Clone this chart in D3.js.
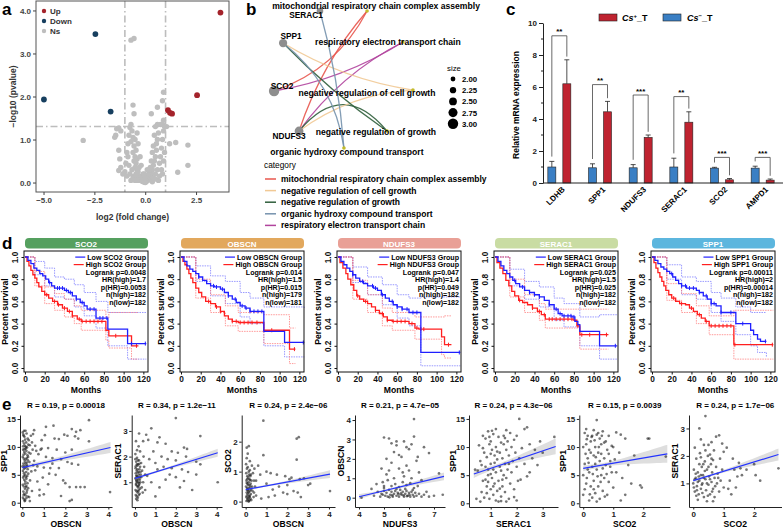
<!DOCTYPE html>
<html><head><meta charset="utf-8">
<script src="https://cdn.jsdelivr.net/npm/d3@7"></script>
<style>body{margin:0;background:#fff}</style>
</head><body><script>
// ================= DATA =================
// Panel a: volcano
const volcUp = [[3.7,3.95],[2.55,2.03],[1.12,1.68],[1.22,1.62],[1.32,1.6]];
const volcDown = [[-2.45,3.45],[-4.98,1.93],[-1.7,1.65]];
const volcNs = [[-0.7,3.31],[-0.55,3.35],[-3.05,0.98],[-0.6,1.8],[-0.55,1.6],[0.9,2.1],[0.85,1.9],[0.6,1.75],[0.3,1.6],[2.1,0.87],[2.1,0.4],[1.6,0.24],[1.5,0.93],[1.2,0.9],[1.05,1.3],[0.85,1.35],[0.9,1.45],
[-1.4,1.25],[-1.3,1.27],[-1.2,1.2],[-1.45,1.1],[-1.5,1.05],[-1.3,0.75],[-1.25,0.55],[-1.2,0.35],[-1.3,0.28],[-1.1,0.2],[-1.0,0.25],[-0.95,0.45],[-0.9,0.7],[-0.85,0.9],[-0.8,1.1],[-0.75,1.28],[-0.7,1.35],[-0.65,1.2],[-0.6,1.05],[-0.7,0.95],[-0.55,0.85],[-0.6,0.7],[-0.5,0.6],[-0.55,0.5],[-0.45,0.45],[-0.5,0.35],[-0.4,0.3],[-0.45,0.2],[-0.35,0.15],[-0.3,0.1],[-0.25,0.08],[-0.2,0.05],[-0.15,0.03],[-0.1,0.02],[-0.05,0.01],[-0.35,0.25],[-0.3,0.35],[-0.4,0.55],[-0.3,0.05],[-0.55,0.15],[-0.65,0.3],[-0.75,0.2],[-0.8,0.4],[-0.9,0.15],[-0.6,0.1],[-0.5,0.05],[-0.7,0.05],[-0.2,0.15],[-0.15,0.1],[-0.4,0.05],[-0.85,0.6],[-0.45,0.75],[-0.5,1.0],[-0.4,1.15],[-0.35,0.9],[-0.25,0.6],[-0.2,0.4],[-0.1,0.2],
[0.05,0.02],[0.1,0.05],[0.15,0.08],[0.2,0.1],[0.25,0.15],[0.3,0.2],[0.35,0.3],[0.4,0.4],[0.45,0.5],[0.5,0.6],[0.55,0.75],[0.55,0.9],[0.6,1.0],[0.65,1.15],[0.6,1.35],[0.5,1.3],[0.45,1.1],[0.4,0.85],[0.35,0.7],[0.3,0.5],[0.25,0.35],[0.2,0.25],[0.15,0.18],[0.1,0.12],[0.3,0.05],[0.4,0.1],[0.5,0.2],[0.6,0.3],[0.7,0.45],[0.75,0.6],[0.8,0.8],[0.85,1.0],[0.9,1.2],[0.95,1.3],[0.7,0.15],[0.8,0.3],[0.65,0.05],[0.85,0.2],[0.9,0.5],[0.95,0.7],[0.75,1.35],[0.5,0.08],[0.35,0.02],[0.0,0.0],[0.05,0.15],[0.0,0.1],[-0.05,0.2],[0.1,0.3]];
const volcXTicks = [-5, -2.5, 0, 2.5];
const volcYTicks = [0, 1, 2, 3, 4];
const volcLegend = ["Up", "Down", "Ns"];

// Panel b: gene-concept network
const netGenes = ["SERAC1", "SPP1", "SCO2", "NDUFS3"];
const netGeneSize = [2.3, 2.6, 3.0, 2.7];
const netGeneXY = [[34.1,0],[12.4,23.4],[7.1,58.4],[21.8,87.6]];
const netTerms = ["mitochondrial respiratory chain complex assembly","respiratory electron transport chain","negative regulation of cell growth","negative regulation of growth","organic hydroxy compound transport"];
const netTermXY = [[61.8,0],[82.9,22.6],[88.8,57.7],[73.5,87.6],[48.2,100]];
const netEdges = [["SCO2",0],["SCO2",1],["NDUFS3",0],["NDUFS3",1],["NDUFS3",3],["NDUFS3",2],["SPP1",2],["SPP1",3],["SPP1",4],["SERAC1",4]];
const netCategories = ["mitochondrial respiratory chain complex assembly","negative regulation of cell growth","negative regulation of growth","organic hydroxy compound transport","respiratory electron transport chain"];
const sizeLegend = [2.00, 2.25, 2.50, 2.75, 3.00];

// Panel c: qPCR bars
const qGenes = ["LDHB","SPP1","NDUFS3","SERAC1","SCO2","AMPD1"];
const qNeg = [1.0, 0.95, 0.95, 1.0, 0.93, 0.93];
const qNegErr = [0.35, 0.25, 0.2, 0.55, 0.05, 0.12];
const qPos = [6.2, 4.45, 2.85, 3.8, 0.2, 0.18];
const qPosErr = [1.5, 0.65, 0.15, 0.65, 0.08, 0.07];
const qBracket = [9.2, 6.15, 5.5, 5.4, 1.6, 1.6];
const qStars = ["**","**","***","**","***","***"];
const qYTicks = [0, 2, 4, 6, 8, 10];

// Panel d: Kaplan-Meier
const kmGenes = ["SCO2","OBSCN","NDUFS3","SERAC1","SPP1"];
const kmStats = [["0.0048","1.7","0.0053","182","182"],["0.014","1.5","0.015","179","181"],["0.047","1.4","0.049","182","182"],["0.025","1.5","0.025","182","182"],["0.00011","2","0.00014","182","182"]];
const kmLow = [
 [[0,1],[3,0.97],[6,0.94],[9,0.9],[12,0.88],[15,0.85],[18,0.83],[21,0.8],[24,0.77],[27,0.74],[30,0.72],[40,0.7],[44,0.68],[48,0.65],[52,0.62],[56,0.59],[60,0.56],[63,0.53],[72,0.45],[84,0.35],[104,0.22],[123,0.22]],
 [[0,1],[3,0.96],[6,0.92],[9,0.89],[12,0.87],[15,0.85],[18,0.82],[22,0.79],[26,0.76],[30,0.74],[34,0.73],[40,0.71],[44,0.68],[48,0.65],[52,0.62],[56,0.59],[60,0.56],[65,0.54],[70,0.51],[84,0.33],[105,0.23],[125,0.23]],
 [[0,1],[3,0.96],[6,0.93],[9,0.9],[12,0.87],[15,0.84],[18,0.81],[22,0.78],[26,0.76],[30,0.74],[36,0.72],[40,0.7],[44,0.66],[48,0.63],[52,0.6],[56,0.57],[60,0.55],[65,0.53],[72,0.5],[84,0.14],[124,0.14]],
 [[0,1],[3,0.96],[6,0.92],[9,0.88],[12,0.85],[15,0.82],[18,0.79],[21,0.76],[25,0.73],[30,0.7],[35,0.68],[40,0.66],[45,0.64],[50,0.61],[55,0.57],[60,0.53],[64,0.49],[68,0.47],[78,0.46],[81,0.42],[84,0.39],[86,0.33],[106,0.2],[124,0.2]],
 [[0,1],[3,0.97],[6,0.94],[9,0.91],[12,0.89],[15,0.87],[18,0.85],[21,0.82],[24,0.79],[27,0.76],[30,0.74],[35,0.72],[45,0.7],[48,0.68],[52,0.65],[56,0.62],[60,0.58],[65,0.56],[70,0.5],[85,0.4],[100,0.34],[103,0.3],[107,0.26],[110,0.24],[116,0.24]]];
const kmHigh = [
 [[0,1],[2,0.96],[4,0.92],[6,0.88],[8,0.84],[10,0.81],[12,0.77],[14,0.73],[17,0.69],[20,0.66],[24,0.63],[28,0.6],[33,0.57],[38,0.54],[43,0.51],[48,0.47],[53,0.44],[57,0.42],[82,0.34],[85,0.29],[108,0.2],[115,0.2]],
 [[0,1],[2,0.96],[4,0.93],[6,0.89],[8,0.85],[10,0.81],[12,0.77],[15,0.72],[18,0.68],[21,0.64],[25,0.6],[30,0.58],[35,0.55],[40,0.51],[44,0.47],[48,0.44],[52,0.42],[58,0.41],[84,0.34],[110,0.17],[116,0.17]],
 [[0,1],[2,0.95],[5,0.9],[8,0.85],[10,0.8],[13,0.75],[16,0.7],[19,0.65],[22,0.62],[26,0.6],[30,0.58],[34,0.55],[38,0.52],[42,0.49],[46,0.46],[50,0.43],[55,0.42],[72,0.4],[78,0.36],[82,0.35],[105,0.28],[108,0.21],[115,0.21]],
 [[0,1],[2,0.95],[5,0.9],[8,0.85],[11,0.79],[14,0.74],[17,0.69],[20,0.65],[24,0.61],[28,0.59],[33,0.57],[38,0.54],[43,0.51],[47,0.48],[51,0.44],[80,0.43],[83,0.38],[86,0.3],[115,0.3]],
 [[0,1],[2,0.95],[4,0.9],[6,0.86],[8,0.82],[10,0.78],[12,0.74],[14,0.7],[17,0.66],[20,0.63],[24,0.6],[28,0.58],[34,0.57],[38,0.54],[42,0.51],[46,0.48],[50,0.45],[54,0.42],[58,0.38],[83,0.21],[123,0.21]]];
const kmLowUp = [
 [[0,1],[10,0.96],[20,0.9],[30,0.82],[40,0.8],[50,0.75],[60,0.68],[72,0.6],[84,0.5],[104,0.5],[123,0.5]],
 [[0,1],[15,0.92],[30,0.83],[45,0.78],[60,0.68],[70,0.63],[84,0.55],[125,0.54]],
 [[0,1],[15,0.91],[30,0.82],[45,0.75],[60,0.66],[72,0.63],[84,0.64],[124,0.64]],
 [[0,1],[15,0.89],[30,0.78],[45,0.73],[60,0.63],[70,0.58],[86,0.46],[106,0.48],[124,0.48]],
 [[0,1],[15,0.93],[30,0.82],[45,0.78],[60,0.68],[70,0.63],[85,0.55],[100,0.5],[116,0.5]]];
const kmLowLo = [
 [[0,1],[10,0.84],[20,0.74],[30,0.64],[40,0.62],[50,0.55],[60,0.47],[72,0.36],[84,0.2],[104,0.08],[123,0.08]],
 [[0,1],[15,0.78],[30,0.65],[45,0.58],[60,0.46],[70,0.4],[84,0.2],[105,0.1],[125,0.1]],
 [[0,1],[15,0.77],[30,0.66],[45,0.57],[60,0.45],[72,0.38],[84,0.02],[124,0.02]],
 [[0,1],[15,0.74],[30,0.62],[45,0.55],[60,0.43],[70,0.37],[86,0.2],[106,0.08],[124,0.08]],
 [[0,1],[15,0.8],[30,0.66],[45,0.62],[60,0.5],[70,0.42],[85,0.3],[100,0.2],[107,0.14],[116,0.1]]];
const kmHighUp = [
 [[0,1],[10,0.87],[20,0.73],[30,0.67],[40,0.62],[50,0.56],[57,0.52],[82,0.45],[85,0.5],[115,0.5]],
 [[0,1],[15,0.8],[30,0.66],[45,0.56],[58,0.5],[84,0.48],[110,0.36],[116,0.36]],
 [[0,1],[15,0.79],[30,0.66],[45,0.54],[55,0.5],[78,0.46],[108,0.47],[115,0.47]],
 [[0,1],[15,0.8],[30,0.66],[45,0.58],[51,0.53],[86,0.53],[115,0.53]],
 [[0,1],[15,0.76],[30,0.67],[45,0.56],[58,0.47],[83,0.52],[123,0.52]]];
const kmHighLo = [
 [[0,1],[10,0.74],[20,0.58],[30,0.52],[40,0.46],[50,0.4],[57,0.34],[82,0.25],[85,0.18],[108,0.08],[115,0.08]],
 [[0,1],[15,0.63],[30,0.5],[45,0.38],[58,0.33],[84,0.22],[110,0.04],[116,0.04]],
 [[0,1],[15,0.62],[30,0.5],[45,0.38],[55,0.34],[78,0.26],[105,0.12],[108,0.09],[115,0.09]],
 [[0,1],[15,0.64],[30,0.5],[45,0.43],[51,0.36],[86,0.17],[115,0.17]],
 [[0,1],[15,0.61],[30,0.5],[45,0.4],[58,0.3],[83,0.08],[123,0.08]]];
const kmCensLow = [[25,33,35,38,42,46,52,58,66,70,76,79,83,108,122],[18,33,36,42,48,55,62,66,70,74,78,82,124],[15,25,35,38,45,55,60,65,70,76,80,123],[20,28,35,40,45,55,62,66,70,74,77,80,122],[20,30,34,38,42,48,55,60,63,70,80,92,115]];
const kmCensHigh = [[22,30,34,40,45,48,55,58,62,66,70,74,78,92,113],[28,36,40,52,56,60,64,68,72,77,92,115],[20,28,38,45,50,56,60,64,68,75,80,84,87,112],[25,38,45,50,55,58,62,66,70,74,78,84,88,96,113],[22,30,40,48,55,60,64,68,72,76,80,84,122]];
const kmXTicks = [0,20,40,60,80,100,120];
const kmYTicks = [0,0.2,0.4,0.6,0.8,1.0];

// Panel e: correlations
const scTitles = ["R = 0.19, p = 0.00018","R = 0.34, p = 1.2e\u221211","R = 0.24, p = 2.4e\u221206","R = 0.21, p = 4.7e\u221205","R = 0.24, p = 4.3e\u221206","R = 0.15, p = 0.0039","R = 0.24, p = 1.7e\u221206"];
const scXLab = ["OBSCN","OBSCN","OBSCN","NDUFS3","SERAC1","SCO2","SCO2"];
const scYLab = ["SPP1","SERAC1","SCO2","OBSCN","SPP1","SPP1","SERAC1"];
const scXTicks = [[0,1,2,3,4],[0,1,2,3,4],[0,1,2,3,4],[4,5,6,7],[1,2,3],[0,1,2],[0,1,2]];
const scYTicks = [[0,5,10,15],[1,2,3],[0,1,2],[0,1,2,3,4],[0,5,10,15],[0,5,10,15],[1,2,3]];
const scFit = [[0,6.3,4.1,9.9],[0,1.15,4.05,2.15],[0,0.4,4.05,0.92],[4.0,0.05,7.4,1.1],[0.35,5.2,3.5,10.1],[0,6.2,2.8,8.8],[0,1.1,2.8,2.05]];
const scBand = [[0.45,0.35,1.0],[0.07,0.04,0.16],[0.05,0.03,0.13],[0.14,0.05,0.2],[0.7,0.35,1.4],[0.5,0.35,1.6],[0.06,0.04,0.22]];
const e1Pts = [[0.02,12.6],[0.05,12.2],[0.1,11.8],[0.15,12.9],[0.2,12.4],[0.25,11.5],[0.03,11.0],[0.08,10.6],[0.12,10.2],[0.18,10.8],[0.22,9.9],[0.28,10.4],[0.04,9.5],[0.09,9.1],[0.14,8.8],[0.19,9.3],[0.24,8.5],[0.3,9.0],[0.02,8.2],[0.07,7.9],[0.11,7.5],[0.16,7.8],[0.21,7.2],[0.26,7.6],[0.05,7.0],[0.1,6.6],[0.15,6.3],[0.2,6.8],[0.25,6.0],[0.03,5.7],[0.08,5.3],[0.13,5.0],[0.18,5.5],[0.23,4.8],[0.28,5.2],[0.04,4.5],[0.09,4.1],[0.14,3.8],[0.19,4.3],[0.24,3.5],[0.02,3.2],[0.07,2.9],[0.12,2.5],[0.17,2.8],[0.22,2.2],[0.27,2.6],[0.05,2.0],[0.1,1.6],[0.15,1.3],[0.2,1.8],[0.25,1.1],[0.03,0.9],[0.08,0.6],[0.13,0.4],[0.18,0.8],[0.35,0.3],[0.06,12.0],[0.13,11.3],[0.17,10.0],[0.11,9.6],[0.06,8.6],[0.21,8.0],[0.14,7.1],[0.09,6.1],[0.17,4.6],[0.12,3.4],[0.06,1.4],[0.3,11.2],[0.35,10.3],[0.4,12.0],[0.33,7.3],[0.38,8.8],[0.42,5.6],[0.36,4.0],[0.45,2.1],[0.32,1.0],[0.08,12.9],[0.04,10.1],[0.16,9.7],[0.23,6.5],[0.07,4.8],[0.19,3.0],[0.01,6.5],[0.27,8.2],[0.11,0.3],
[3.1,14.8],[1.45,13.8],[2.3,13.2],[2.5,12.7],[2.7,13.0],[1.95,12.2],[2.1,12.0],[2.45,11.9],[3.1,11.0],[1.5,11.5],[1.7,11.4],[0.9,9.7],[1.2,9.8],[1.6,9.5],[2.0,9.0],[2.3,9.5],[0.6,10.2],[0.85,9.5],[1.1,8.2],[1.4,8.0],[1.8,7.8],[2.1,7.3],[2.3,7.0],[2.6,6.8],[0.7,6.5],[1.0,6.3],[1.3,6.2],[1.55,5.0],[1.9,4.0],[2.0,3.5],[2.5,2.8],[2.7,2.8],[2.9,2.8],[2.2,2.8],[1.8,1.2],[2.2,0.3],[2.3,0.5],[1.0,1.5],[0.8,2.3],[4.08,1.9],[0.5,12.3],[0.55,13.0],[0.65,9.3],[0.75,8.7],[0.55,7.5],[0.6,5.8],[0.7,3.8],[0.8,1.3],[0.9,11.2],[1.05,12.1],[1.25,5.2],[1.4,7.0],[1.7,6.2],[0.45,10.8],[0.5,6.7],[0.48,9.5],[1.1,13.6],[0.95,4.5],[1.2,3.3],[2.6,11.5]];
const e2Pts = [[0.02,1.9],[0.06,1.8],[0.1,1.95],[0.15,1.7],[0.2,1.85],[0.25,1.6],[0.03,1.55],[0.08,1.45],[0.12,1.65],[0.18,1.4],[0.22,1.5],[0.28,1.3],[0.04,1.35],[0.09,1.25],[0.14,1.2],[0.19,1.3],[0.24,1.1],[0.3,1.2],[0.02,1.15],[0.07,1.05],[0.11,1.0],[0.16,1.1],[0.21,0.95],[0.26,1.0],[0.05,0.9],[0.1,0.85],[0.15,0.8],[0.2,0.9],[0.25,0.75],[0.03,0.7],[0.08,0.65],[0.13,0.6],[0.18,0.7],[0.23,0.55],[0.04,0.5],[0.09,0.45],[0.14,0.4],[0.19,0.5],[0.06,0.35],[0.12,0.3],[0.02,2.1],[0.1,2.25],[0.18,2.4],[0.05,2.6],[0.25,2.2],[0.3,1.75],[0.35,1.45],[0.4,1.0],[0.33,0.8],[0.38,0.6],[0.12,1.5],[0.07,1.25],[0.17,1.0],[0.22,1.2],[0.06,0.95],[0.16,0.65],[0.27,1.4],[0.09,1.7],[0.14,1.85],[0.45,1.6],[0.5,1.3],[0.42,2.0],[0.2,2.9],[0.04,1.62],[0.13,1.38],[0.21,1.72],[0.08,1.08],[0.17,0.85],
[2.0,3.5],[0.8,3.1],[0.55,2.85],[1.2,2.75],[0.4,2.6],[0.65,2.65],[1.1,2.55],[1.5,2.5],[3.2,2.8],[2.4,2.35],[2.55,2.3],[1.8,2.2],[2.1,2.15],[0.9,2.2],[1.3,2.0],[2.5,2.0],[1.6,1.9],[2.0,1.85],[3.0,1.8],[3.2,1.7],[1.0,1.75],[0.7,1.9],[1.1,1.5],[1.4,1.6],[1.8,1.55],[2.3,1.5],[2.6,1.4],[3.0,1.3],[2.0,1.2],[1.5,1.1],[2.2,0.8],[2.8,0.7],[1.0,0.45],[4.05,1.0],[0.6,1.25],[0.8,1.0],[1.7,1.3],[2.4,1.05],[1.2,0.8],[0.5,0.7]];
const e3Pts = [[0.02,1.25],[0.06,1.1],[0.1,1.15],[0.15,1.0],[0.2,1.05],[0.25,0.9],[0.03,0.95],[0.08,0.85],[0.12,0.8],[0.18,0.75],[0.22,0.85],[0.28,0.7],[0.04,0.7],[0.09,0.6],[0.14,0.65],[0.19,0.55],[0.24,0.6],[0.3,0.5],[0.02,0.5],[0.07,0.45],[0.11,0.4],[0.16,0.45],[0.21,0.35],[0.26,0.4],[0.05,0.3],[0.1,0.25],[0.15,0.3],[0.2,0.2],[0.25,0.25],[0.03,0.15],[0.08,0.1],[0.13,0.12],[0.18,0.05],[0.23,0.1],[0.04,0.02],[0.09,0.05],[0.14,0.0],[0.19,0.15],[0.1,1.6],[0.05,1.45],[0.2,1.35],[0.3,1.2],[0.35,0.95],[0.4,0.7],[0.33,0.35],[0.38,0.15],[0.12,0.55],[0.07,0.75],[0.17,0.9],[0.22,0.5],[0.06,0.2],[0.16,0.18],[0.27,0.05],[0.45,0.5],[0.5,0.2],[0.42,1.1],[0.05,0.62],[0.13,0.33],[0.21,0.72],[0.08,0.38],[0.17,0.02],
[0.85,2.7],[2.45,2.1],[2.55,2.15],[2.45,1.4],[0.6,1.2],[0.85,1.55],[1.0,1.0],[1.2,0.95],[0.7,0.9],[1.5,0.9],[1.9,0.85],[2.2,0.8],[2.1,0.75],[2.6,0.75],[2.8,0.78],[3.0,0.55],[3.1,0.6],[1.0,0.6],[1.6,0.5],[1.8,0.3],[2.0,0.25],[2.3,0.35],[2.5,0.3],[2.65,0.15],[1.4,0.2],[0.75,0.1],[4.05,0.35],[1.3,0.4],[0.5,0.7],[0.4,0.3],[1.1,0.15],[2.0,0.55],[0.15,1.85],[0.05,1.8]];
const e4Pts = [[4.6,0.1],[4.75,0.3],[4.85,0.05],[4.9,0.2],[5.0,0.35],[5.05,0.1],[5.1,0.25],[5.15,0.05],[5.2,0.4],[5.25,0.15],[5.3,0.3],[5.35,0.05],[5.4,0.2],[5.45,0.35],[5.5,0.1],[5.55,0.25],[5.6,0.05],[5.65,0.4],[5.7,0.15],[5.75,0.3],[5.8,0.05],[5.85,0.2],[5.9,0.35],[5.95,0.1],[6.0,0.25],[6.05,0.05],[6.1,0.3],[6.15,0.15],[6.2,0.05],[6.25,0.25],[6.3,0.1],[6.4,0.2],[6.5,0.05],[6.6,0.15],[6.7,0.3],[6.8,0.05],[5.0,0.5],[5.3,0.6],[5.6,0.55],[5.9,0.65],[6.2,0.5],[5.45,0.7],[5.75,0.8],[6.05,0.75],[4.95,0.8],[6.35,0.6],[5.15,0.9],[5.5,0.45],[5.85,0.45],[6.15,0.4],[5.22,0.02],[5.58,0.18],[5.92,0.08],[5.33,0.12],[5.68,0.22],[6.02,0.15],[4.95,0.15],[5.78,0.12],
[6.2,4.05],[5.0,3.1],[5.2,3.05],[5.8,2.9],[5.3,2.8],[5.5,2.7],[6.1,2.75],[6.2,3.15],[5.9,2.6],[6.0,2.5],[5.4,2.35],[5.6,2.2],[5.1,2.0],[5.7,2.1],[6.3,1.9],[5.3,1.8],[5.9,1.65],[6.6,2.6],[6.8,2.3],[5.2,1.4],[5.6,1.5],[6.0,1.4],[6.4,1.3],[7.2,1.25],[5.1,1.2],[5.4,1.0],[5.8,1.1],[6.1,1.0],[4.5,0.45],[4.7,0.7],[5.0,0.6],[7.0,0.1],[7.35,0.15],[4.1,0.0],[5.5,2.9],[6.35,2.1],[5.75,1.3],[6.5,0.9],[4.9,1.5]];
const e5Pts = [[0.5,5.8],[0.55,10.3],[0.6,7.5],[0.65,2.0],[0.7,12.0],[0.7,4.0],[0.75,9.0],[0.75,1.0],[0.8,11.5],[0.8,6.5],[0.85,3.0],[0.85,8.2],[0.9,12.8],[0.9,5.0],[0.95,10.5],[0.95,0.8],[1.0,7.0],[1.0,2.5],[1.0,11.0],[1.05,4.5],[1.05,9.5],[1.1,6.0],[1.1,1.5],[1.1,12.3],[1.15,8.5],[1.15,3.5],[1.2,10.0],[1.2,5.5],[1.2,0.5],[1.25,7.8],[1.25,2.2],[1.3,11.8],[1.3,4.0],[1.35,9.0],[1.35,6.5],[1.4,1.2],[1.4,10.8],[1.45,3.0],[1.45,8.0],[1.5,5.0],[1.5,12.0],[1.55,7.0],[1.55,2.0],[1.6,9.5],[1.6,4.5],[1.65,11.0],[1.65,6.0],[1.7,0.8],[1.7,8.5],[1.75,3.5],[1.8,10.0],[1.8,5.5],[1.85,7.5],[1.9,2.5],[1.95,9.0],[2.0,6.5],[2.0,12.0],[2.05,4.0],[2.1,8.0],[0.6,0.3],[0.9,6.0],[1.0,8.8],[1.3,0.3],[0.8,4.2],[1.6,13.0],[1.2,13.2],[0.7,9.8],[1.5,10.5],[1.1,3.0],[1.9,11.3],[0.95,11.8],[1.4,5.8],[1.75,12.5],[0.65,6.8],[0.85,1.8],[1.05,12.9],[1.25,9.2],[1.45,4.2],[1.15,7.2],[0.9,3.8],[1.35,2.6],[1.55,11.6],[1.7,7.0],[1.0,5.2],
[2.1,15.0],[2.4,13.5],[2.3,13.2],[2.9,11.0],[3.45,11.8],[2.5,10.5],[2.7,9.5],[3.0,9.0],[2.2,9.8],[2.6,8.0],[2.3,7.0],[2.8,6.8],[2.5,5.5],[2.4,4.8],[2.15,4.2],[1.9,1.1],[2.0,0.5],[1.6,0.3],[1.4,0.4],[0.45,0.8],[0.4,6.0]];
const e6Pts = [[0.05,12.5],[0.1,10.5],[0.15,8.0],[0.2,5.5],[0.25,3.0],[0.3,1.0],[0.05,7.0],[0.1,3.5],[0.15,12.0],[0.2,9.5],[0.25,11.0],[0.3,6.5],[0.35,13.0],[0.35,8.5],[0.35,4.0],[0.4,10.0],[0.4,1.8],[0.45,12.2],[0.45,6.0],[0.5,9.0],[0.5,3.0],[0.55,11.5],[0.55,7.5],[0.55,0.8],[0.6,10.5],[0.6,5.0],[0.65,12.8],[0.65,2.2],[0.7,8.0],[0.7,4.5],[0.75,11.0],[0.75,6.8],[0.8,9.5],[0.8,1.5],[0.85,12.0],[0.85,3.8],[0.9,7.5],[0.95,10.2],[0.95,5.5],[1.0,2.8],[0.0,10.0],[0.0,5.0],[0.0,1.5],[0.1,13.2],[0.2,0.5],[0.3,12.0],[0.45,0.3],[0.6,8.8],[0.15,6.0],[0.25,9.0],[0.4,7.0],[0.5,12.5],[0.7,10.8],[0.05,2.5],[0.35,2.5],[0.65,6.2],[0.85,8.8],[0.12,4.5],[0.28,11.8],[0.48,4.8],[0.18,7.2],[0.38,11.2],[0.58,3.8],[0.08,8.8],[0.22,1.6],[0.42,8.2],[0.62,12.0],[0.78,5.2],[0.32,5.2],[0.52,10.0],[0.12,11.4],[0.72,1.2],
[0.45,14.8],[2.15,11.5],[2.2,11.5],[1.25,12.2],[1.1,12.6],[1.4,11.5],[1.7,8.5],[1.2,9.0],[1.0,10.0],[1.5,6.8],[1.1,5.5],[1.3,4.5],[1.6,3.5],[1.9,3.2],[1.95,2.8],[1.4,1.5],[1.25,0.5],[0.9,6.5],[2.75,8.3],[1.05,7.8]];
const e7Pts = [[0.0,1.0],[0.02,1.5],[0.05,0.7],[0.08,1.2],[0.1,1.9],[0.12,0.9],[0.15,1.4],[0.18,0.6],[0.2,1.1],[0.22,2.1],[0.25,0.8],[0.28,1.6],[0.3,1.0],[0.32,1.3],[0.35,0.5],[0.38,1.8],[0.4,1.15],[0.42,0.75],[0.45,1.5],[0.48,2.0],[0.5,0.95],[0.52,1.25],[0.55,0.6],[0.58,1.7],[0.6,1.05],[0.62,1.4],[0.65,0.8],[0.68,2.2],[0.7,1.2],[0.72,0.9],[0.75,1.6],[0.78,1.0],[0.8,1.35],[0.85,0.7],[0.88,1.9],[0.9,1.1],[0.95,1.5],[1.0,0.85],[0.05,2.3],[0.15,0.4],[0.25,1.95],[0.35,2.4],[0.45,0.35],[0.55,2.05],[0.65,1.85],[0.1,0.55],[0.3,0.65],[0.5,1.6],[0.7,0.5],[0.2,1.7],[0.4,2.2],[0.6,1.9],[0.15,1.05],[0.35,1.2],[0.08,1.35],[0.45,1.0],[0.62,0.7],[0.82,1.2],[0.05,1.15],[0.18,1.25],[0.28,0.95],[0.38,1.45],[0.12,0.75],[0.25,1.3],[0.55,1.15],[0.02,0.85],[0.33,1.7],[0.48,0.55],
[0.4,3.45],[0.2,3.0],[0.85,2.75],[0.75,2.7],[0.25,2.6],[0.6,2.5],[0.95,2.45],[0.5,2.4],[1.1,2.3],[1.0,2.15],[1.3,1.9],[1.5,1.75],[1.35,1.5],[1.6,1.3],[1.55,1.55],[1.75,1.5],[2.05,1.3],[2.2,1.1],[2.8,1.55],[1.45,1.25],[1.2,1.1],[1.4,0.85],[1.15,0.8],[0.65,0.35],[1.25,0.6],[2.0,1.7]];
const scPts = [e1Pts, e2Pts, e3Pts, e4Pts, e5Pts, e6Pts, e7Pts];

// ================= LAYOUT / STYLE =================
const FONT = "'Liberation Sans', Arial, Helvetica, sans-serif";
const svg = d3.select("body").append("svg").attr("width",783).attr("height",529).style("font-family",FONT);
svg.append("rect").attr("width",783).attr("height",529).attr("fill","#fff");

function T(g,x,y,s,size,o={}){
  const t=g.append("text").attr("x",x).attr("y",y).text(s).attr("font-size",size)
    .attr("font-weight",o.w||"bold").attr("fill",o.fill||"#000");
  if(o.a) t.attr("text-anchor",o.a);
  if(o.rot!=null) t.attr("transform",`rotate(${o.rot},${x},${y})`);
  return t;
}
function styleAxis(ax,size,col){
  ax.selectAll("text").attr("font-size",size).attr("font-weight","bold").attr("fill",col||"#222").attr("font-family",FONT);
  ax.selectAll("line").attr("stroke",col||"#222");
  ax.selectAll("path").attr("stroke",col||"#222");
}

// panel letters
[["a",2,15],["b",246,15],["c",506,15],["d",2,249],["e",2,410]].forEach(d=>T(svg,d[1],d[2],d[0],17));

// ================= PANEL A =================
(function(){
  const g=svg.append("g");
  const L=36,R=229,Tp=1,B=192;
  const x=d3.scaleLinear().domain([-5.37,4.12]).range([L,R]);
  const y=d3.scaleLinear().domain([-0.22,4.22]).range([B,Tp]);
  const dash="7,3,1.5,3";
  [-1,1].forEach(v=>g.append("line").attr("x1",x(v)).attr("x2",x(v)).attr("y1",Tp).attr("y2",B)
     .attr("stroke","#bdbdbd").attr("stroke-width",1.6).attr("stroke-dasharray",dash));
  g.append("line").attr("x1",L).attr("x2",R).attr("y1",y(-Math.log10(0.05))).attr("y2",y(-Math.log10(0.05)))
     .attr("stroke","#bdbdbd").attr("stroke-width",1.6).attr("stroke-dasharray",dash);
  g.selectAll(".ns").data(volcNs).join("circle").attr("cx",d=>x(d[0])).attr("cy",d=>y(d[1])).attr("r",2.7).attr("fill","#bebebe");
  g.selectAll(".dn").data(volcDown).join("circle").attr("cx",d=>x(d[0])).attr("cy",d=>y(d[1])).attr("r",2.9).attr("fill","#173f5f");
  g.selectAll(".up").data(volcUp).join("circle").attr("cx",d=>x(d[0])).attr("cy",d=>y(d[1])).attr("r",2.9).attr("fill","#a4232b");
  g.append("rect").attr("x",L).attr("y",Tp).attr("width",R-L).attr("height",B-Tp).attr("fill","none").attr("stroke","#555").attr("stroke-width",1);
  const ax=g.append("g").attr("transform",`translate(0,${B})`).call(d3.axisBottom(x).tickValues(volcXTicks).tickFormat(d3.format(".1f")).tickSize(3).tickPadding(2));
  ax.select(".domain").remove(); styleAxis(ax,8,"#444");
  const ay=g.append("g").attr("transform",`translate(${L},0)`).call(d3.axisLeft(y).tickValues(volcYTicks).tickSize(3).tickPadding(2));
  ay.select(".domain").remove(); styleAxis(ay,8,"#444");
  T(g,(L+R)/2,220,"log2 (fold change)",8.5,{a:"middle",fill:"#333"});
  T(g,16,(Tp+B)/2,"\u2212log10 (pvalue)",8.5,{a:"middle",rot:-90,fill:"#333"});
  const lc=["#a4232b","#173f5f","#bebebe"];
  volcLegend.forEach((s,i)=>{ const yy=11+i*10;
    g.append("circle").attr("cx",44).attr("cy",yy).attr("r",2.2).attr("fill",lc[i]);
    T(g,50,yy+3,s,8,{fill:"#333"}); });
})();

// ================= PANEL B =================
(function(){
  const g=svg.append("g");
  const x=d3.scaleLinear().domain([0,100]).range([262,432]);
  const y=d3.scaleLinear().domain([0,100]).range([11,148]);
  const r=d3.scaleSqrt().domain([2,3]).range([2.4,5.2]);
  const catCol={"mitochondrial respiratory chain complex assembly":"#e8574e","negative regulation of cell growth":"#f1c995","negative regulation of growth":"#2f5e3b","organic hydroxy compound transport":"#7592ad","respiratory electron transport chain":"#b1449d"};
  const bend=[0.2,0.1,-0.1,-0.12,-0.6,-0.15,0.1,0.05,-0.2,-0.05];
  netEdges.forEach((e,i)=>{
    const gi=netGenes.indexOf(e[0]); const a=[x(netGeneXY[gi][0]),y(netGeneXY[gi][1])];
    const b=[x(netTermXY[e[1]][0]),y(netTermXY[e[1]][1])];
    const dx=b[0]-a[0],dy=b[1]-a[1];
    const cx=(a[0]+b[0])/2-dy*bend[i], cy=(a[1]+b[1])/2+dx*bend[i];
    g.append("path").attr("d",`M${a[0]},${a[1]}Q${cx},${cy} ${b[0]},${b[1]}`).attr("fill","none")
      .attr("stroke",catCol[netTerms[e[1]]]).attr("stroke-width",1.3).attr("opacity",0.9);
  });
  netGenes.forEach((s,i)=>g.append("circle").attr("cx",x(netGeneXY[i][0])).attr("cy",y(netGeneXY[i][1])).attr("r",r(netGeneSize[i])).attr("fill","#8e8e8e"));
  netTerms.forEach((s,i)=>g.append("circle").attr("cx",x(netTermXY[i][0])).attr("cy",y(netTermXY[i][1])).attr("r",1.8).attr("fill","#c2bb2c"));
  const gOff=[[-14,4],[8,-7],[8,-5],[-10,5]];
  netGenes.forEach((s,i)=>T(g,x(netGeneXY[i][0])+gOff[i][0],y(netGeneXY[i][1])+gOff[i][1]+3,s,8.3,{a:"middle"}));
  const tOff=[[9,-5],[-15,0],[-46,3],[-11,1],[3,4]];
  netTerms.forEach((s,i)=>T(g,x(netTermXY[i][0])+tOff[i][0],y(netTermXY[i][1])+tOff[i][1]+3,s,8.6,{a:"middle"}));
  // size legend
  T(g,447,71,"size",7.8,{w:"normal"});
  sizeLegend.forEach((s,i)=>{ const yy=79+i*11.2;
    g.append("circle").attr("cx",453).attr("cy",yy).attr("r",r(s)).attr("fill","#000");
    T(g,462,yy+3,s.toFixed(2),7.8); });
  // category legend
  T(g,264,168,"category",8.3,{w:"normal"});
  netCategories.forEach((s,i)=>{ const yy=179+i*11.6;
    g.append("line").attr("x1",265).attr("x2",276).attr("y1",yy).attr("y2",yy).attr("stroke",catCol[s]).attr("stroke-width",1.5);
    T(g,281,yy+3,s,8.5); });
})();

// ================= PANEL C =================
(function(){
  const g=svg.append("g");
  const x=d3.scaleBand().domain(qGenes).range([539,783]);
  const y=d3.scaleLinear().domain([0,10]).range([183,23]);
  const red="#bf2330", blue="#3a7fc4", bw=8, off=7.5;
  qGenes.forEach((gn,i)=>{
    const c=x(gn)+x.bandwidth()/2;
    [[c-off,qNeg[i],qNegErr[i],blue],[c+off,qPos[i],qPosErr[i],red]].forEach(b=>{
      g.append("line").attr("x1",b[0]).attr("x2",b[0]).attr("y1",y(b[1])).attr("y2",y(b[1]+b[2])).attr("stroke","#222").attr("stroke-width",0.8);
      g.append("line").attr("x1",b[0]-2.5).attr("x2",b[0]+2.5).attr("y1",y(b[1]+b[2])).attr("y2",y(b[1]+b[2])).attr("stroke","#222").attr("stroke-width",0.8);
      g.append("rect").attr("x",b[0]-bw/2).attr("y",y(b[1])).attr("width",bw).attr("height",y(0)-y(b[1])).attr("fill",b[3]).attr("stroke","#222").attr("stroke-width",0.6);
    });
    const yb=y(qBracket[i]);
    g.append("path").attr("d",`M${c-off},${y(qNeg[i]+qNegErr[i]+0.3)}V${yb}H${c+off}V${y(qPos[i]+qPosErr[i]+0.2)}`).attr("fill","none").attr("stroke","#444").attr("stroke-width",0.8);
    T(g,c,yb-1.5,qStars[i],8,{a:"middle"});
    T(g,c+6,190,gn,8,{a:"end",rot:-45});
  });
  g.append("line").attr("x1",543).attr("x2",783).attr("y1",183).attr("y2",183).attr("stroke","#222");
  const ay=g.append("g").attr("transform","translate(543,0)").call(d3.axisLeft(y).tickValues(qYTicks).tickSize(4).tickSizeOuter(0).tickPadding(2));
  styleAxis(ay,8);
  g.selectAll(".mt").data([1,3,5,7,9]).join("line").attr("x1",541).attr("x2",543).attr("y1",d=>y(d)).attr("y2",d=>y(d)).attr("stroke","#222");
  T(g,519,105,"Relative mRNA expression",8.5,{a:"middle",rot:-90});
  // legend
  g.append("rect").attr("x",599).attr("y",14).attr("width",18).attr("height",7).attr("fill",red).attr("stroke","#222").attr("stroke-width",0.6);
  g.append("rect").attr("x",663).attr("y",14).attr("width",18).attr("height",7).attr("fill",blue).attr("stroke","#222").attr("stroke-width",0.6);
  const l1=g.append("text").attr("x",622).attr("y",21).attr("font-size",9).attr("font-weight","bold");
  l1.append("tspan").attr("font-style","italic").text("Cs");
  l1.append("tspan").attr("font-size",6).attr("dy",-3.5).text("+");
  l1.append("tspan").attr("dy",3.5).text("_T");
  const l2=g.append("text").attr("x",687).attr("y",21).attr("font-size",9).attr("font-weight","bold");
  l2.append("tspan").attr("font-style","italic").text("Cs");
  l2.append("tspan").attr("font-size",6).attr("dy",-3.5).text("\u2212");
  l2.append("tspan").attr("dy",3.5).text("_T");
})();

// ================= PANEL D =================
(function(){
  const lefts=[24,180,337,494,651], Wd=124, top=251, bot=372;
  const hdrCol=["#55a05f","#e2a85d","#e9a096","#c9dca3","#5cb6de"];
  kmGenes.forEach((gn,k)=>{
    const g=svg.append("g"); const L=lefts[k], R=L+Wd;
    const x=d3.scaleLinear().domain([-1,124.7]).range([L,R]);
    const y=d3.scaleLinear().domain([-0.036,1.054]).range([bot,top]);
    g.append("rect").attr("x",L+1).attr("y",238).attr("width",Wd-1).attr("height",10.5).attr("rx",4).attr("fill",hdrCol[k]);
    T(g,L+Wd/2,246.5,gn,8,{a:"middle",fill:"#fff"});
    const line=d3.line().x(d=>x(d[0])).y(d=>y(d[1])).curve(d3.curveStepAfter);
    const ci=[[kmLowUp[k],"#6f6fff"],[kmLowLo[k],"#6f6fff"],[kmHighUp[k],"#ff7070"],[kmHighLo[k],"#ff7070"]];
    ci.forEach(c=>g.append("path").attr("d",line(c[0])).attr("fill","none").attr("stroke",c[1]).attr("stroke-width",0.7).attr("stroke-dasharray","1.5,1"));
    [[kmHigh[k],kmCensHigh[k],"#ff1f1f"],[kmLow[k],kmCensLow[k],"#1f1fff"]].forEach(c=>{
      g.append("path").attr("d",line(c[0])).attr("fill","none").attr("stroke",c[2]).attr("stroke-width",1.3);
      const bis=d3.bisector(d=>d[0]).right;
      c[1].forEach(t=>{ const s=c[0][Math.max(0,bis(c[0],t)-1)][1];
        g.append("line").attr("x1",x(t)).attr("x2",x(t)).attr("y1",y(s)-2).attr("y2",y(s)+2).attr("stroke",c[2]).attr("stroke-width",1); });
    });
    g.append("rect").attr("x",L).attr("y",top).attr("width",Wd).attr("height",bot-top).attr("fill","none").attr("stroke","#111").attr("stroke-width",1);
    const ax=g.append("g").attr("transform",`translate(0,${bot})`).call(d3.axisBottom(x).tickValues(kmXTicks).tickSize(2.5).tickPadding(1.5));
    ax.select(".domain").remove(); styleAxis(ax,8.3,"#111");
    const ay=g.append("g").attr("transform",`translate(${L},0)`).call(d3.axisLeft(y).tickValues(kmYTicks).tickSize(2.5).tickFormat(d3.format(".1f")));
    ay.select(".domain").remove(); styleAxis(ay,8.3,"#111");
    ay.selectAll("text").attr("x",0).attr("dy",0).attr("text-anchor","middle")
      .attr("transform","translate(-6,0) rotate(-90)");
    T(g,L-16,(top+bot)/2,"Percent survival",8.6,{a:"middle",rot:-90});
    T(g,L+Wd/2,393,"Months",8.6,{a:"middle"});
    // legend
    const st=kmStats[k];
    const rows=[`Low ${gn} Group`,`High ${gn} Group`,`Logrank p=${st[0]}`,`HR(high)=${st[1]}`,`p(HR)=${st[2]}`,`n(high)=${st[3]}`,`n(low)=${st[4]}`];
    rows.forEach((s,i)=>{ const yy=259.5+i*7.5;
      const t=T(g,R-2,yy,s,7.1,{a:"end"});
      if(i<2){ const w=t.node().getComputedTextLength();
        g.append("line").attr("x1",R-2-w-12).attr("x2",R-2-w-2).attr("y1",yy-2.4).attr("y2",yy-2.4).attr("stroke",i==0?"#1f1fff":"#ff1f1f").attr("stroke-width",1.2); }
    });
  });
})();

// ================= PANEL E =================
(function(){
  const lay=[
    {l:20,r:112,xd:[-0.107,4.17],yd:[-0.77,15.72]},
    {l:131.7,r:222,xd:[-0.16,4.26],yd:[0.037,3.62]},
    {l:241.7,r:335,xd:[-0.19,4.29],yd:[-0.18,2.89]},
    {l:355,r:445,xd:[3.84,7.44],yd:[-0.48,4.26]},
    {l:469,r:558,xd:[0.165,3.59],yd:[-0.66,15.7]},
    {l:579.3,r:670,xd:[-0.13,2.89],yd:[-0.66,15.7]},
    {l:689,r:781.5,xd:[-0.14,2.9],yd:[0.14,3.49]}];
  const top=415, bot=507;
  lay.forEach((p,k)=>{
    const g=svg.append("g");
    const x=d3.scaleLinear().domain(p.xd).range([p.l,p.r]);
    const y=d3.scaleLinear().domain(p.yd).range([bot,top]);
    const f=scFit[k], b=scBand[k];
    const xm=(f[0]+f[2])/2*0.6+f[0]*0.4;
    const fy=v=>f[1]+(f[3]-f[1])*(v-f[0])/(f[2]-f[0]);
    const bandPts=[[f[0],b[0]],[xm,b[1]],[f[2],b[2]]];
    const area=d3.area().x(d=>x(d[0])).y0(d=>y(fy(d[0])-d[1])).y1(d=>y(fy(d[0])+d[1])).curve(d3.curveCatmullRom);
    g.append("path").attr("d",area(bandPts)).attr("fill","#c8c8c8").attr("opacity",0.6);
    g.selectAll("circle").data(scPts[k]).join("circle").attr("cx",d=>x(d[0])).attr("cy",d=>y(d[1])).attr("r",1.35).attr("fill","#1a1a1a").attr("opacity",0.6);
    g.append("line").attr("x1",x(f[0])).attr("y1",y(f[1])).attr("x2",x(f[2])).attr("y2",y(f[3])).attr("stroke","#2433ff").attr("stroke-width",1.2);
    const ax=g.append("g").attr("transform",`translate(0,${bot})`).call(d3.axisBottom(x).tickValues(scXTicks[k]).tickFormat(d3.format("d")).tickSize(2.5).tickSizeOuter(0).tickPadding(1.5));
    styleAxis(ax,8,"#222");
    const ay=g.append("g").attr("transform",`translate(${p.l},0)`).call(d3.axisLeft(y).tickValues(scYTicks[k]).tickFormat(d3.format("d")).tickSize(2.5).tickSizeOuter(0).tickPadding(1.5));
    styleAxis(ay,8,"#222");
    const cx=(p.l+p.r)/2;
    T(g,cx,408,scTitles[k],8,{a:"middle"});
    T(g,cx,527,scXLab[k],8.6,{a:"middle"});
    const two=d3.max(scYTicks[k])>=10;
    T(g,p.l-(two?13:11),(top+bot)/2,scYLab[k],8.6,{a:"middle",rot:-90});
  });
})();
</script></body></html>
